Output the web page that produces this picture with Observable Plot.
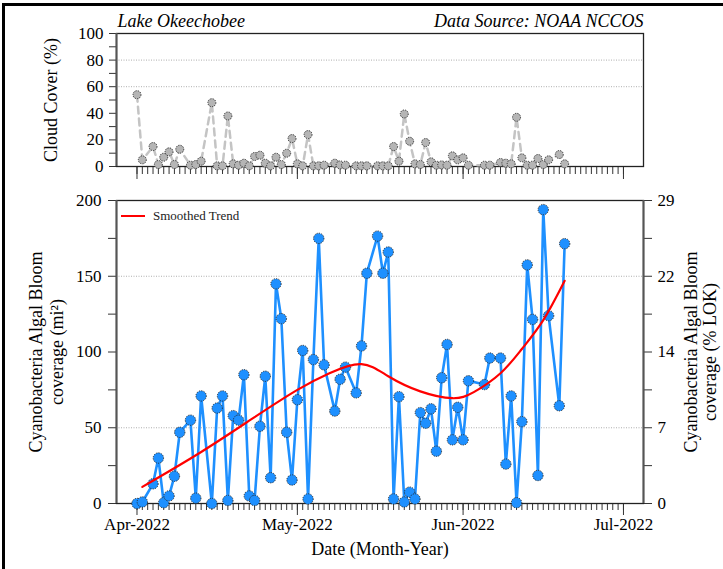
<!DOCTYPE html>
<html><head><meta charset="utf-8">
<script src="https://cdn.jsdelivr.net/npm/d3@7"></script>
<script src="https://cdn.jsdelivr.net/npm/@observablehq/plot@0.6"></script>
<style>
body{margin:0;background:#fff;}
#wrap{position:relative;width:723px;height:569px;overflow:hidden;background:#fff;}
#wrap svg, #wrap svg text{font-family:'Liberation Serif','Times New Roman',serif !important;}
#frame{position:absolute;left:2px;top:3px;width:800px;height:700px;border-left:3px solid #000;border-top:3px solid #000;pointer-events:none;}
#top{position:absolute;left:0;top:0;}
#bottom{position:absolute;left:0;top:185px;}
#legend{position:absolute;left:121px;top:208px;font:13px 'Liberation Serif','Times New Roman',serif;color:#222;display:flex;align-items:center;}
#legend span.l{display:inline-block;width:24px;height:0;border-top:2px solid #ff0000;margin-right:8px;}
</style></head><body>
<div id="wrap"><div id="top"></div><div id="bottom"></div><div id="legend"><span class="l"></span>Smoothed Trend</div><div id="frame"></div></div>
<script>
// ---- data ----
const obsDates = [
 "2022-04-01","2022-04-02","2022-04-04","2022-04-05","2022-04-06","2022-04-07","2022-04-08","2022-04-09",
 "2022-04-11","2022-04-12","2022-04-13","2022-04-15","2022-04-16","2022-04-17","2022-04-18","2022-04-19",
 "2022-04-20","2022-04-21","2022-04-22","2022-04-23","2022-04-24","2022-04-25","2022-04-26","2022-04-27",
 "2022-04-28","2022-04-29","2022-04-30",
 "2022-05-01","2022-05-02","2022-05-03","2022-05-04","2022-05-05","2022-05-06","2022-05-08","2022-05-09",
 "2022-05-10","2022-05-12","2022-05-13","2022-05-14","2022-05-16","2022-05-17","2022-05-18","2022-05-19",
 "2022-05-20","2022-05-21","2022-05-22","2022-05-23","2022-05-24","2022-05-25","2022-05-26","2022-05-27",
 "2022-05-28","2022-05-29","2022-05-30","2022-05-31",
 "2022-06-01","2022-06-02","2022-06-05","2022-06-06","2022-06-08","2022-06-09","2022-06-10","2022-06-11",
 "2022-06-12","2022-06-13","2022-06-14","2022-06-15","2022-06-16","2022-06-17","2022-06-19","2022-06-20"
];
const bloomMi2 = [
 0,1,13,30,0.5,5,18,47,55,3.5,71,0,63,71,2,58,55,85,5,2,51,84,17,145,122,47,15.5,
 68.5,101,3,95,175,91.5,61,82,90,73,104,152,176.5,152,166,3,70.5,1,7.5,3,60,53,62.5,34.5,83,105,42,63.5,
 42,81,78.5,96,96,26,71,0.5,54,157.5,121.5,18.5,194,124,64.5,171.5
];
const cloudPct = [
 54,5,15,1.5,7,11,1.5,13,1,1.5,4,48,0.5,0.5,38,2,1,2.5,0.5,7.5,8.5,2.5,0.5,7,1.5,10,21,
 2,0.5,24,0.5,0.5,1,2.5,1.2,1,0.5,0.5,0.5,0.5,0.5,0.5,15,4,39.5,19,2,1.5,18,3.5,1,1.2,1,8,5,
 6.5,1,1,1,3,2.5,2,37,6.5,1,1,6,1.5,5,9,2
];
const trendDates = ["2022-04-02","2022-04-13","2022-04-23","2022-05-01","2022-05-07","2022-05-13","2022-05-18",
 "2022-05-24","2022-05-30","2022-06-03","2022-06-08","2022-06-12","2022-06-16","2022-06-20"];
const trendMi2 = [11,34,57,75,86,92,84,74,69.5,73.5,86,102,121,147];

const cloudTicksMajor = [0,20,40,60,80,100];
const cloudTicksMinor = [10,30,50,70,90];
const cloudGrid = [60,80];
const bloomTicksMajor = [0,50,100,150,200];
const bloomTicksMinor = [25,75,125,175];
const bloomGrid = [50,150];
const pctLabels = ["0","7","14","22","29"];

const titleLeft = "Lake Okeechobee";
const titleRight = "Data Source: NOAA NCCOS";

// ---- build ----
const parse = d3.utcParse("%Y-%m-%d");
const obs = obsDates.map((d,i) => ({date: parse(d), bloom: bloomMi2[i], cloud: cloudPct[i]}));
const trend = trendDates.map((d,i) => ({date: parse(d), v: trendMi2[i]}));
const pctMap = new Map(bloomTicksMajor.map((v,i) => [v, pctLabels[i]]));

const xDomain = [new Date(Date.UTC(2022,2,28,4)), new Date(Date.UTC(2022,6,4,18))];
const dayTicks = d3.utcDay.range(new Date(Date.UTC(2022,3,1)), new Date(Date.UTC(2022,6,1,12)));
const monthTicks = d3.utcMonth.range(new Date(Date.UTC(2022,3,1)), new Date(Date.UTC(2022,6,1,12)));
const font = "'Liberation Serif','Times New Roman',serif";
const blank = () => "";
const axisStroke = "#333";

const topPlot = Plot.plot({
  width: 723, height: 185, marginLeft: 116, marginRight: 80, marginTop: 33, marginBottom: 19,
  style: {fontFamily: font, fontSize: "17px", background: "transparent", color: "#000", overflow: "visible"},
  x: {type: "utc", domain: xDomain, label: null},
  y: {domain: [0,100], label: null},
  marks: [
    Plot.ruleY(cloudGrid, {stroke: "#9a9a9a", strokeWidth: 0.8, strokeDasharray: "1,1.5"}),
    Plot.axisX({ticks: dayTicks, tickSize: 8, tickFormat: blank, stroke: axisStroke, label: null}),
    Plot.axisX({ticks: monthTicks, tickSize: 13, tickFormat: blank, stroke: axisStroke, label: null}),
    Plot.axisY({ticks: cloudTicksMinor, tickSize: 7, tickFormat: blank, stroke: axisStroke, label: null}),
    Plot.axisY({ticks: cloudTicksMajor, tickSize: 7, tickPadding: 6, stroke: axisStroke, label: null, fontSize: 17}),
    Plot.frame({stroke: "#222", strokeWidth: 1.3}),
    Plot.ruleX([xDomain[0]], {stroke: "#555", strokeWidth: 2}),
    Plot.line(obs, {x: "date", y: "cloud", stroke: "#c4c4c4", strokeWidth: 2.5, strokeDasharray: "7,5"}),
    Plot.dot(obs, {x: "date", y: "cloud", r: 4, fill: "#b5b5b5", stroke: "#222", strokeWidth: 0.9, strokeDasharray: "1.2,1.2"}),
    Plot.text([titleLeft], {frameAnchor: "top-left", textAnchor: "start", lineAnchor: "middle", dx: 1, dy: -12, fontStyle: "italic", fontSize: 18}),
    Plot.text([titleRight], {frameAnchor: "top-right", textAnchor: "end", lineAnchor: "middle", dx: 0, dy: -12, fontStyle: "italic", fontSize: 18}),
    Plot.text(["Cloud Cover (%)"], {frameAnchor: "left", textAnchor: "middle", rotate: -90, dx: -65, lineAnchor: "middle", fontSize: 18})
  ]
});
document.getElementById("top").append(topPlot);

const botPlot = Plot.plot({
  width: 723, height: 384, marginLeft: 116, marginRight: 80, marginTop: 15, marginBottom: 66,
  style: {fontFamily: font, fontSize: "17px", background: "transparent", color: "#000", overflow: "visible"},
  x: {type: "utc", domain: xDomain, label: null},
  y: {domain: [0,200], label: null},
  marks: [
    Plot.ruleY(bloomGrid, {stroke: "#9a9a9a", strokeWidth: 0.8, strokeDasharray: "1,1.5"}),
    Plot.axisX({ticks: dayTicks, tickSize: 7, tickFormat: blank, stroke: axisStroke, label: null}),
    Plot.axisX({ticks: monthTicks, tickSize: 12, tickPadding: 2, tickFormat: d3.utcFormat("%b-%Y"), stroke: axisStroke, label: null, fontSize: 17}),
    Plot.axisY({ticks: bloomTicksMinor, tickSize: 8, tickFormat: blank, stroke: axisStroke, label: null}),
    Plot.axisY({ticks: bloomTicksMajor, tickSize: 8, tickPadding: 7, stroke: axisStroke, label: null, fontSize: 17}),
    Plot.axisY({anchor: "right", ticks: bloomTicksMinor, tickSize: 8, tickFormat: blank, stroke: axisStroke, label: null}),
    Plot.axisY({anchor: "right", ticks: bloomTicksMajor, tickSize: 8, tickPadding: 6, tickFormat: d => pctMap.get(d), stroke: axisStroke, label: null, fontSize: 17}),
    Plot.frame({stroke: "#222", strokeWidth: 1.3}),
    Plot.ruleX([xDomain[0], xDomain[1]], {stroke: "#555", strokeWidth: 2}),
    Plot.line(obs, {x: "date", y: "bloom", stroke: "#1e90ff", strokeWidth: 2.6}),
    Plot.dot(obs, {x: "date", y: "bloom", r: 5.2, fill: "#1e90ff", stroke: "#222", strokeWidth: 0.9, strokeDasharray: "1.2,1.2"}),
    Plot.line(trend, {x: "date", y: "v", stroke: "#ff0000", strokeWidth: 2.2, curve: "natural"}),
    Plot.text(["Date (Month-Year)"], {frameAnchor: "bottom", dy: 46, lineAnchor: "middle", fontSize: 18}),
    Plot.text(["Cyanobacteria Algal Bloom"], {frameAnchor: "left", textAnchor: "middle", rotate: -90, dx: -80, lineAnchor: "middle", fontSize: 18}),
    Plot.text(["coverage (mi²)"], {frameAnchor: "left", textAnchor: "middle", rotate: -90, dx: -59, lineAnchor: "middle", fontSize: 18}),
    Plot.text(["Cyanobacteria Algal Bloom"], {frameAnchor: "right", textAnchor: "middle", rotate: -90, dx: 48, lineAnchor: "middle", fontSize: 18}),
    Plot.text(["coverage (% LOK)"], {frameAnchor: "right", textAnchor: "middle", rotate: -90, dx: 67, lineAnchor: "middle", fontSize: 18})
  ]
});
document.getElementById("bottom").append(botPlot);
</script>
</body></html>
